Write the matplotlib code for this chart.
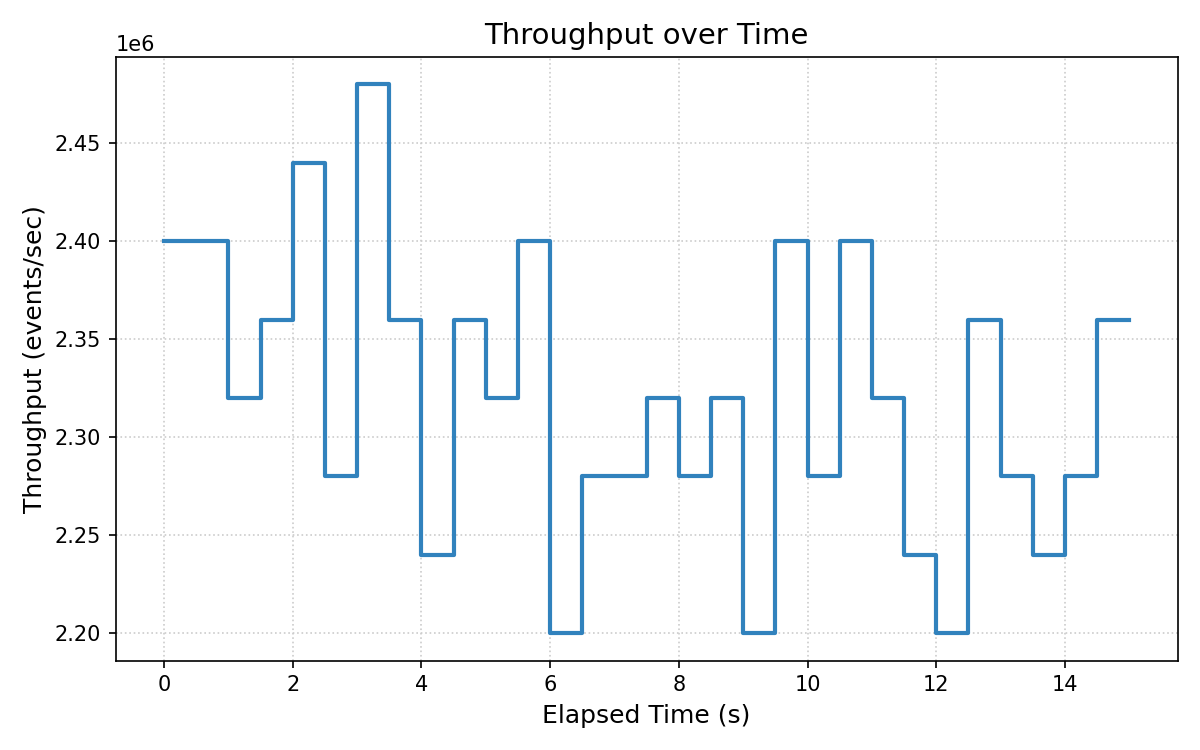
import matplotlib
matplotlib.use("Agg")
import matplotlib.pyplot as plt

# elapsed time (s) and throughput (events/sec)
elapsed = [0.0, 0.5, 1.0, 1.5, 2.0, 2.5, 3.0, 3.5, 4.0, 4.5,
           5.0, 5.5, 6.0, 6.5, 7.0, 7.5, 8.0, 8.5, 9.0, 9.5,
           10.0, 10.5, 11.0, 11.5, 12.0, 12.5, 13.0, 13.5, 14.0, 14.5, 15.0]
throughput = [2.40e6, 2.40e6, 2.32e6, 2.36e6, 2.44e6, 2.28e6, 2.48e6, 2.36e6, 2.24e6, 2.36e6,
              2.32e6, 2.40e6, 2.20e6, 2.28e6, 2.28e6, 2.32e6, 2.28e6, 2.32e6, 2.20e6, 2.40e6,
              2.28e6, 2.40e6, 2.32e6, 2.24e6, 2.20e6, 2.36e6, 2.28e6, 2.24e6, 2.28e6, 2.36e6, 2.36e6]

fig, ax = plt.subplots(figsize=(8, 5), dpi=150)
ax.step(elapsed, throughput, where="post", color="#3182bd", linewidth=2)

ax.set_title("Throughput over Time", fontsize=14)
ax.set_xlabel("Elapsed Time (s)", fontsize=12)
ax.set_ylabel("Throughput (events/sec)", fontsize=12)
ax.tick_params(labelsize=10)
ax.grid(True, linestyle=":", color="#cccccc", linewidth=0.8)

fig.tight_layout()
fig.savefig("out.png")
